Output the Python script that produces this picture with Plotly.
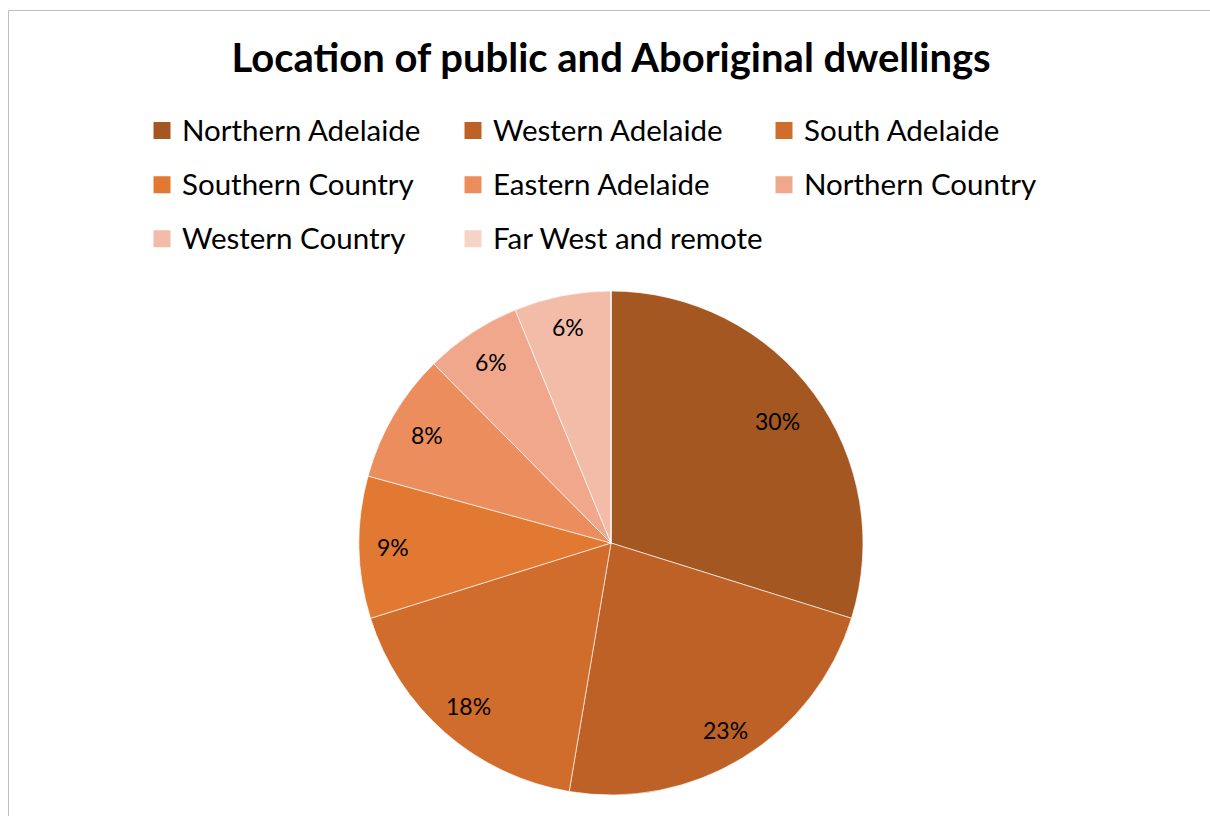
import math
import plotly.graph_objects as go

# Share of public and Aboriginal dwellings by region (percent)
regions = [
    "Northern Adelaide",
    "Western Adelaide",
    "South Adelaide",
    "Southern Country",
    "Eastern Adelaide",
    "Northern Country",
    "Western Country",
    "Far West and remote",
]
shares = [29.8, 22.8, 17.5, 9.1, 8.3, 6.2, 6.2, 0.0]
colors = [
    "#A55722",
    "#BE6126",
    "#D06C2C",
    "#E27933",
    "#EC8D5D",
    "#F0A78B",
    "#F3BCA9",
    "#F7D3C7",
]

W, H = 1210, 816
FONT = "Lato, 'Open Sans', sans-serif"

# pie centre and radius in pixels
cx, cy, rad = 611, 543, 252
# same-colour outline that enlarges the legend swatches
swatch_line = 6
# distance of each percentage label from the centre, as a fraction of the radius
label_r = [0.82, 0.87, 0.86, 0.865, 0.845, 0.86, 0.875, 0.86]

# legend rows are spaced by the legend font size; entry text is drawn smaller
legend_labels = [
    '<span style="font-size:29.5px;baseline-shift:5px">%s</span>' % r for r in regions
]


def pie_domain(r):
    return dict(
        x=[(cx - r) / W, (cx + r) / W],
        y=[(H - (cy + r)) / H, (H - (cy - r)) / H],
    )


fig = go.Figure()

# base pie that feeds the legend (outlined for larger swatches)
fig.add_trace(
    go.Pie(
        labels=legend_labels,
        values=shares,
        sort=False,
        direction="clockwise",
        rotation=0,
        marker=dict(colors=colors, line=dict(color=colors, width=swatch_line)),
        textinfo="none",
        hoverinfo="skip",
        domain=pie_domain(rad - swatch_line),
        showlegend=True,
    )
)

# visible slices with thin light separators
fig.add_trace(
    go.Pie(
        labels=legend_labels,
        values=shares,
        sort=False,
        direction="clockwise",
        rotation=0,
        marker=dict(
            colors=colors,
            line=dict(color="rgba(255,255,255,0.85)", width=0.8),
        ),
        textinfo="none",
        hoverinfo="label+percent",
        domain=pie_domain(rad),
        showlegend=False,
    )
)

# percentage labels placed at the middle angle of each slice
total = sum(shares)
annotations = []
cum = 0.0
for i, v in enumerate(shares):
    if v > 0:
        mid = (cum + v / 2) / total * 2 * math.pi
        r = label_r[i] * rad
        px = cx + r * math.sin(mid)
        py = cy - r * math.cos(mid)
        annotations.append(
            dict(
                x=px / W,
                y=1 - py / H,
                xref="paper",
                yref="paper",
                text="%d%%" % round(v / total * 100),
                showarrow=False,
                xanchor="center",
                yanchor="middle",
                font=dict(family=FONT, size=23, color="black"),
            )
        )
    cum += v

fig.update_layout(
    width=W,
    height=H,
    margin=dict(l=0, r=0, t=0, b=0),
    paper_bgcolor="white",
    plot_bgcolor="white",
    font=dict(family=FONT, color="black"),
    title=dict(
        text="<b>Location of public and Aboriginal dwellings</b>",
        x=0.505,
        xanchor="center",
        xref="paper",
        y=1 - 58 / H,
        yanchor="middle",
        yref="paper",
        font=dict(family=FONT, size=40, color="black"),
    ),
    legend=dict(
        orientation="h",
        x=(162 - 20) / W,
        xanchor="left",
        y=1 - 98.5 / H,
        yanchor="top",
        entrywidth=266,
        entrywidthmode="pixels",
        font=dict(family=FONT, size=39.3, color="black"),
        bgcolor="rgba(0,0,0,0)",
        traceorder="normal",
    ),
    annotations=annotations,
    shapes=[
        dict(
            type="rect",
            xref="paper",
            yref="paper",
            x0=8.5 / W,
            x1=1.01,
            y0=-0.01,
            y1=1 - 10.5 / H,
            line=dict(color="#BFBFBF", width=1),
            fillcolor="rgba(0,0,0,0)",
            layer="below",
        )
    ],
)

fig.write_html("out.html")
